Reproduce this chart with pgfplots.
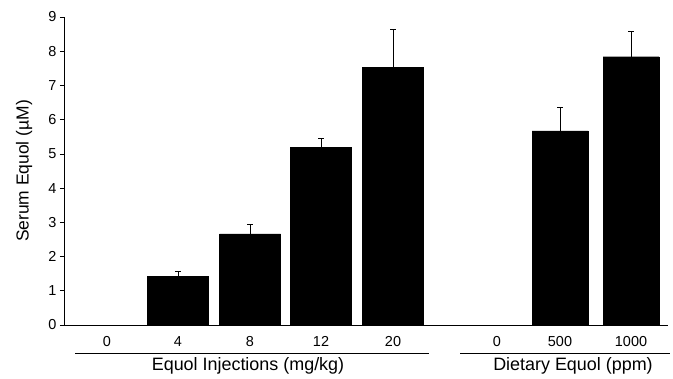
\documentclass[border=0pt]{standalone}
\usepackage{fontspec}
\setmainfont{Liberation Sans}
\usepackage{pgfplots}
\pgfplotsset{compat=1.18}
\begin{document}
\begin{tikzpicture}
\useasboundingbox (-64bp,-54bp) rectangle (609bp,325bp);
\begin{axis}[
  scale only axis,
  width=604bp, height=308bp,
  xmin=64, xmax=668, ymin=0, ymax=9,
  axis x line*=bottom, axis y line*=left,
  axis line style={-, black, line width=0.8pt},
  ytick={0,1,...,9},
  ytick align=outside, tick style={black, line width=0.6pt},
  major tick length=4bp,
  xtick={107,178,250,321,393,497,560,631},
  xticklabels={0,4,8,12,20,0,500,1000},
  xtick style={draw=none},
  xticklabel style={yshift=-8bp},
  /pgf/number format/assume math mode=true,
  ticklabel style={font=\fontsize{14.5}{17}\selectfont},
  ylabel={Serum Equol (\textmu M)},
  ylabel style={at={(axis description cs:-0.0662,0.5)}, anchor=center, font=\fontsize{17.5}{20}\selectfont},
  clip=false,
]
\addplot[ybar, bar width=61, fill=black, draw=black, bar shift=0pt,
  error bars/.cd, y dir=plus, y explicit,
  error bar style={black, line width=0.8pt},
  error mark options={rotate=90, mark size=3bp, black, line width=0.8pt}]
  table[x=x, y=y, y error=e] {
x y e
178 1.42 0.15
250 2.66 0.27
321 5.20 0.24
393 7.52 1.12
};
\addplot[ybar, bar width=56, fill=black, draw=black, bar shift=0pt,
  error bars/.cd, y dir=plus, y explicit,
  error bar style={black, line width=0.8pt},
  error mark options={rotate=90, mark size=3bp, black, line width=0.8pt}]
  table[x=x, y=y, y error=e] {
x y e
560 5.67 0.70
631 7.84 0.73
};
\draw[black, line width=0.8pt] ([yshift=-28bp]axis cs:75,0) -- ([yshift=-28bp]axis cs:429,0);
\draw[black, line width=0.8pt] ([yshift=-28bp]axis cs:460,0) -- ([yshift=-28bp]axis cs:670,0);
\node[font=\fontsize{18}{21}\selectfont] at ([yshift=-41bp]axis cs:248,0) {Equol Injections (mg/kg)};
\node[font=\fontsize{18}{21}\selectfont] at ([yshift=-41bp]axis cs:573,0) {Dietary Equol (ppm)};
\end{axis}
\end{tikzpicture}
\end{document}
